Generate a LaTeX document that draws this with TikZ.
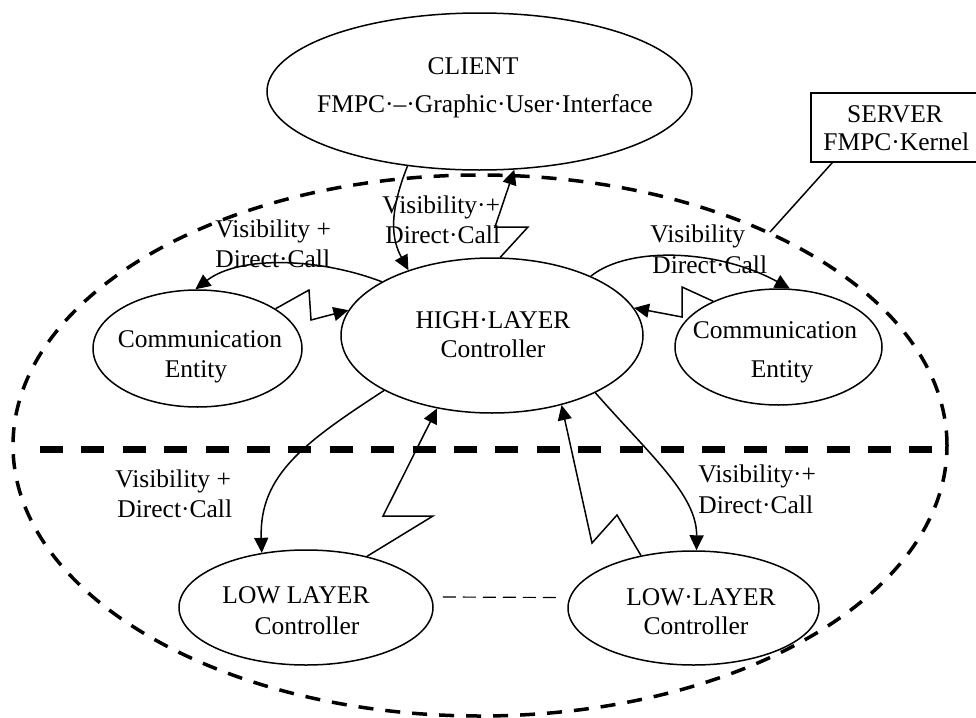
\documentclass[tikz,border=0pt]{standalone}
\usepackage{fontspec}
\setmainfont{Liberation Serif}
\usetikzlibrary{arrows.meta,shapes.geometric}
\begin{document}
\begin{tikzpicture}[x=0.5pt,y=-0.5pt,
  ell/.style={draw, ellipse, line width=0.75pt, inner sep=0pt},
  txt/.style={font=\fontsize{12.75}{15}\selectfont, inner sep=0pt, anchor=base},
  txtw/.style={txt, anchor=base west},
  conn/.style={line width=0.75pt},
  arr/.style={conn, -{Triangle[length=7.5pt,width=7pt]}},
  boundary/.style={draw, ellipse, dash pattern=on 7.5pt off 6pt, line width=1.75pt, inner sep=0pt},
  sepline/.style={dash pattern=on 11.5pt off 9.2pt, line width=3.5pt},
  peerline/.style={dash pattern=on 6.5pt off 3.5pt, line width=0.6pt}
]
\useasboundingbox (0,0) rectangle (976,718);

% boundary and layer separator
\node[boundary, minimum width=467pt, minimum height=270.5pt] (dom) at (480,445.5) {};
\coordinate (layL) at (40,449.7);
\coordinate (layR) at (935,449.7);
\draw[sepline] (layL) -- (layR);

% shapes
\node[ell, minimum width=212.5pt, minimum height=78.5pt] (client) at (479.5,91.5) {};
\node[draw, line width=0.75pt, minimum width=94.5pt, minimum height=34.5pt, inner sep=0pt] (server) at (905.5,127.5) {};
\node[ell, minimum width=151pt, minimum height=77.5pt] (high) at (492,335.5) {};
\node[ell, minimum width=104.5pt, minimum height=58.5pt] (lcomm) at (197.5,348.5) {};
\node[ell, minimum width=103.5pt, minimum height=58pt] (rcomm) at (778.5,347) {};
\node[ell, minimum width=127pt, minimum height=57.5pt] (llow) at (306,607.5) {};
\node[ell, minimum width=125.5pt, minimum height=57pt] (rlow) at (693.5,608) {};

% texts in shapes
\node[txt] (tClientA) at (473,74) {CLIENT};
\node[txt] (tClientB) at (485,112) {FMPC·–·Graphic·User·Interface};
\node[txt] (tSrvA) at (895,122) {SERVER};
\node[txtw] (tSrvB) at (823,150) {FMPC·Kernel};
\node[txt] (tHighA) at (493,328) {HIGH·LAYER};
\node[txt] (tHighB) at (493,357) {Controller};
\node[txt] (tLcA) at (200,347) {Communication};
\node[txt] (tLcB) at (196,377) {Entity};
\node[txt] (tRcA) at (775,338) {Communication};
\node[txt] (tRcB) at (782,377) {Entity};
\node[txt] (tLlA) at (296,603) {LOW LAYER};
\node[txt] (tLlB) at (307,634) {Controller};
\node[txt] (tRlA) at (701,605) {LOW·LAYER};
\node[txt] (tRlB) at (696,634) {Controller};

% connector labels
\node[txtw] (l1a) at (215,237) {Visibility +};
\node[txtw] (l1b) at (215,267) {Direct·Call};
\node[txtw] (l2a) at (382,213) {Visibility·+};
\node[txtw] (l2b) at (385,243) {Direct·Call};
\node[txtw] (l3a) at (650,242) {Visibility};
\node[txtw] (l3b) at (652,273) {Direct·Call};
\node[txtw] (l4a) at (115,487) {Visibility +};
\node[txtw] (l4b) at (117,517) {Direct·Call};
\node[txtw] (l5a) at (698,482) {Visibility·+};
\node[txtw] (l5b) at (698,513) {Direct·Call};

% connectors
\draw[arr] (client.226) .. controls (388,215) and (392,240) .. (high.142);
\draw[arr] (high.84) -- (528,227) -- (495,227) -- (client.294);
\draw[arr] (high.154) .. controls (320,258) and (240,255) .. (lcomm.92);
\draw[arr] (lcomm.27) -- (309,290) -- (311,320) -- (high.170);
\draw[arr] (high.31) .. controls (630,245) and (720,250) .. (rcomm.79);
\draw[arr] (rcomm.145) -- (682,287) -- (682,317) -- (high.11);
\draw[arr] (high.207) .. controls (305,442) and (259,475) .. (llow.129);
\draw[arr] (llow.40) -- (433,516) -- (383,516) -- (high.233);
\draw[arr] (rlow.135) -- (617,515) -- (592,543) -- (high.315);
\draw[arr] (high.331) .. controls (650,455) and (697,495) .. (rlow.87);
\draw[peerline] ([xshift=4.5pt,yshift=5.25pt]llow.east) -- ([xshift=-4pt,yshift=5.25pt]rlow.west);
\coordinate (srvpt) at (770,232);
\draw[conn] ([xshift=11pt]server.south west) -- (srvpt);
\end{tikzpicture}
\end{document}
